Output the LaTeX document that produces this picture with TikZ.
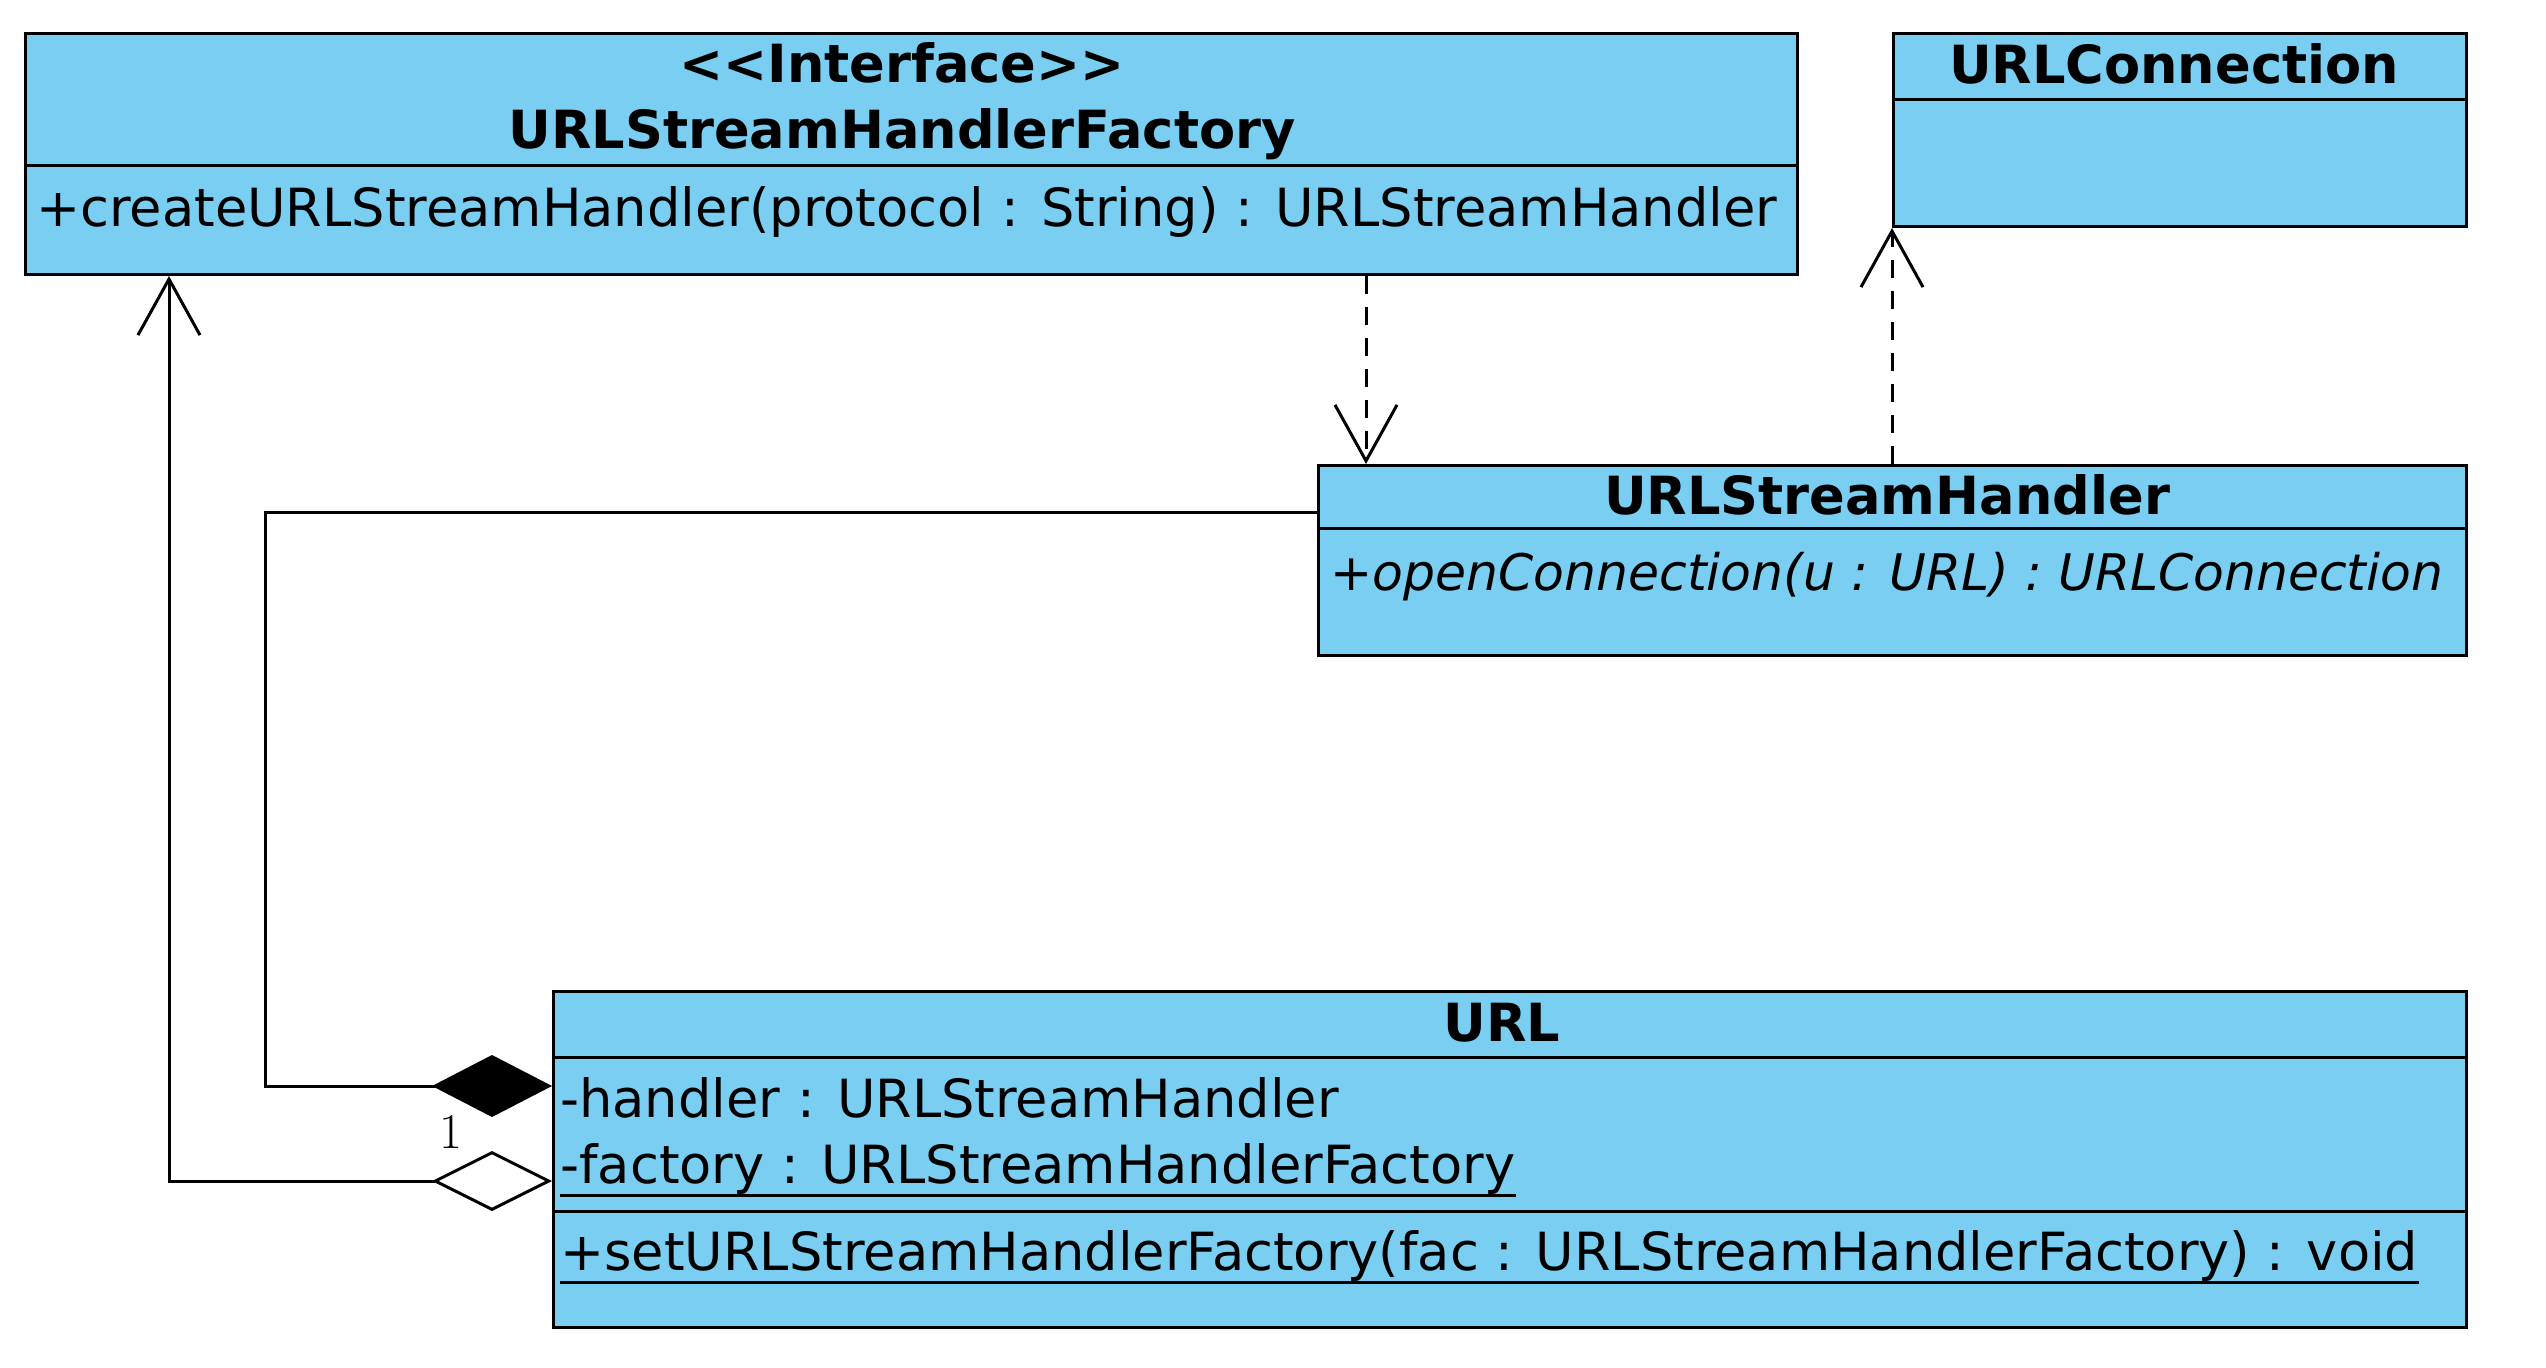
\documentclass[tikz,border=0pt]{standalone}
\usepackage{fontspec}
\usetikzlibrary{arrows.meta}
\newfontfamily\dvs{DejaVu Sans}
\definecolor{umlblue}{RGB}{122,206,241}
\tikzset{
  classbox/.style={draw, line width=1.5pt, fill=umlblue, inner sep=0pt, anchor=north west},
  divider/.style={line width=1.5pt},
  ttl/.style={font=\dvs\bfseries\fontsize{26.3}{30}\selectfont, inner sep=0pt, anchor=base},
  mem/.style={font=\dvs\fontsize{26.3}{30}\selectfont, inner sep=0pt, anchor=base west},
  conn/.style={line width=1.5pt},
  dep/.style={conn, dash pattern=on 9pt off 6.5pt},
  vtip/.style={-{Straight Barb[length=28pt,width=31pt,line width=1.5pt]}},
}
\begin{document}
\begin{tikzpicture}[x=0.5pt,y=-0.5pt]
\useasboundingbox (0,0) rectangle (2546,1368);
% classes
\node[classbox, minimum width=886pt, minimum height=120.5pt] (fac) at (24,32) {};
\node[classbox, minimum width=286.5pt, minimum height=96.5pt] (con) at (1892,32) {};
\node[classbox, minimum width=574pt, minimum height=95pt] (sh) at (1317,464) {};
\node[classbox, minimum width=956.5pt, minimum height=168pt] (url) at (552,990) {};
% dividers
\draw[divider] (fac.west |- 0,166) -- (fac.east |- 0,166);
\draw[divider] (con.west |- 0,100) -- (con.east |- 0,100);
\draw[divider] (sh.west |- 0,529) -- (sh.east |- 0,529);
\draw[divider] (url.west |- 0,1057) -- (url.east |- 0,1057);
\draw[divider] (url.west |- 0,1211) -- (url.east |- 0,1211);
% texts
\node[ttl] (facst) at (902,83) {<<Interface>>};
\node[ttl] (facname) at (902,149) {URLStreamHandlerFactory};
\node[mem] (facop) at (36,227) {+createURLStreamHandler(protocol : String) : URLStreamHandler};
\node[ttl] (conname) at (2174,84) {URLConnection};
\node[ttl] (shname) at (1887,515) {URLStreamHandler};
\node[mem, font=\dvs\itshape\fontsize{25.2}{30}\selectfont] (shop) at (1330,591) {+openConnection(u : URL) : URLConnection};
\node[ttl] (urlname) at (1502,1041) {URL};
\node[mem] (urla) at (560,1117) {-handler : URLStreamHandler};
\node[mem] (urlb) at (560,1183) {-factory : URLStreamHandlerFactory};
\node[mem] (urlop) at (560,1270) {+setURLStreamHandlerFactory(fac : URLStreamHandlerFactory) : void};
\draw[line width=1.5pt] ([yshift=-6pt]urlb.base west) -- ([yshift=-6pt]urlb.base east);
\draw[line width=1.5pt] ([yshift=-6pt]urlop.base west) -- ([yshift=-6pt]urlop.base east);
% connectors
\coordinate (aggbend) at (169,1181);
\coordinate (compbend) at (265,1086);
\coordinate (comptop) at (265,513);
\draw[conn, {Diamond[open, fill=white, length=60pt, width=30pt, line width=1.5pt]}-{Straight Barb[length=28pt,width=31pt,line width=1.5pt]}]
  (url.west |- aggbend) -- (aggbend) -- (aggbend |- fac.south);
\draw[conn, {Diamond[length=60pt, width=31pt]}-]
  (url.west |- compbend) -- (compbend) -- (comptop) -- (sh.west |- comptop);
\node[inner sep=0pt, anchor=base, font=\fontsize{25}{30}\selectfont] (mult) at (451,1148) {1};
\coordinate (d1) at (1366,0);
\coordinate (d2) at (1892,0);
\draw[dep, vtip] (fac.south -| d1) -- (sh.north -| d1);
\draw[dep, vtip] (sh.north -| d2) -- (con.south -| d2);
\end{tikzpicture}
\end{document}
